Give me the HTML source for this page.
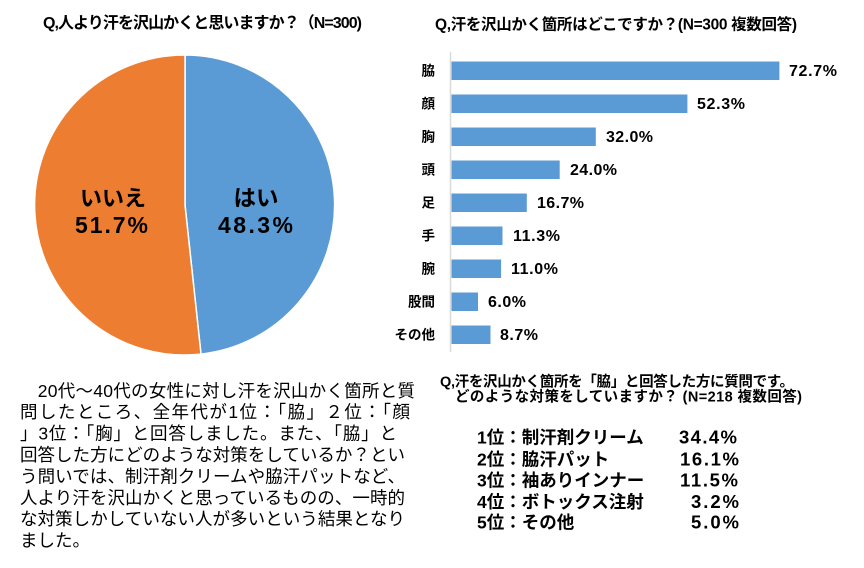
<!DOCTYPE html>
<html><head><meta charset="utf-8"><style>
html,body{margin:0;padding:0;background:#fff;}
svg{display:block;}
text{font-family:"Liberation Sans","Noto Sans CJK JP",sans-serif;fill:#000;}
.b{font-weight:bold;}
</style></head><body>
<svg width="864" height="568" viewBox="0 0 864 568" xmlns="http://www.w3.org/2000/svg">
<rect width="864" height="568" fill="#fff"/>
<!-- Left title -->
<text class="b" x="43" y="28" font-size="16" textLength="319" lengthAdjust="spacing">Q,人より汗を沢山かくと思いますか？（N=300)</text>
<!-- Pie -->
<path d="M185,205 L185,55 A150,150 0 0,1 201,354.1 Z" fill="#5B9BD5" stroke="#fff" stroke-width="1.5"/>
<path d="M185,205 L201,354.1 A150,150 0 1,1 185,55 Z" fill="#ED7D31" stroke="#fff" stroke-width="1.5"/>
<text class="b" x="256" y="206" font-size="22.5" text-anchor="middle">はい</text>
<text class="b" x="218" y="233" font-size="23" textLength="75" lengthAdjust="spacing">48.3%</text>
<text class="b" x="113" y="206" font-size="22" text-anchor="middle">いいえ</text>
<text class="b" x="75" y="233" font-size="23" textLength="73" lengthAdjust="spacing">51.7%</text>

<!-- Right title -->
<text class="b" x="435" y="29.5" font-size="15.5" textLength="362" lengthAdjust="spacing">Q,汗を沢山かく箇所はどこですか？(N=300 複数回答)</text>
<!-- Axis -->
<line x1="450.5" y1="52" x2="450.5" y2="352" stroke="#d9d9d9" stroke-width="1.5"/>
<g fill="#5B9BD5">
<rect x="451.5" y="61.5" width="327.9" height="18.5"/>
<rect x="451.5" y="94.5" width="235.9" height="18.5"/>
<rect x="451.5" y="127.5" width="144.3" height="18.5"/>
<rect x="451.5" y="160.5" width="108.2" height="18.5"/>
<rect x="451.5" y="193.5" width="75.3" height="18.5"/>
<rect x="451.5" y="226.5" width="51" height="18.5"/>
<rect x="451.5" y="259.5" width="49.6" height="18.5"/>
<rect x="451.5" y="292.5" width="26.5" height="18.5"/>
<rect x="451.5" y="325.5" width="39" height="18.5"/>
</g>
<g class="b" font-size="13.5" text-anchor="end" font-weight="bold">
<text x="435" y="75.5">脇</text>
<text x="435" y="108.5">顔</text>
<text x="435" y="141.5">胸</text>
<text x="435" y="174.5">頭</text>
<text x="435" y="207.5">足</text>
<text x="435" y="240.5">手</text>
<text x="435" y="273.5">腕</text>
<text x="435" y="306.5">股間</text>
<text x="435" y="339.5">その他</text>
</g>
<g font-size="16" font-weight="bold">
<text x="789" y="76" textLength="48" lengthAdjust="spacing">72.7%</text>
<text x="697" y="109" textLength="48" lengthAdjust="spacing">52.3%</text>
<text x="606" y="142" textLength="47" lengthAdjust="spacing">32.0%</text>
<text x="570" y="175" textLength="47" lengthAdjust="spacing">24.0%</text>
<text x="537" y="208" textLength="47" lengthAdjust="spacing">16.7%</text>
<text x="513" y="241" textLength="47" lengthAdjust="spacing">11.3%</text>
<text x="511" y="274" textLength="47" lengthAdjust="spacing">11.0%</text>
<text x="488" y="307" textLength="38" lengthAdjust="spacing">6.0%</text>
<text x="500" y="340" textLength="38" lengthAdjust="spacing">8.7%</text>
</g>

<!-- Paragraph -->
<g font-size="17.5">
<text x="20" y="396.8" textLength="395" lengthAdjust="spacing">　20代～40代の女性に対し汗を沢山かく箇所と質</text>
<text x="20" y="418.2" textLength="390" lengthAdjust="spacing">問したところ、全年代が1位：「脇」２位：「顔</text>
<text x="20" y="439.6" textLength="377" lengthAdjust="spacing">」3位：「胸」と回答しました。また、「脇」と</text>
<text x="20" y="461" textLength="385" lengthAdjust="spacing">回答した方にどのような対策をしているか？とい</text>
<text x="20" y="482.4" textLength="385" lengthAdjust="spacing">う問いでは、制汗剤クリームや脇汗パットなど、</text>
<text x="20" y="503.8" textLength="385" lengthAdjust="spacing">人より汗を沢山かくと思っているものの、一時的</text>
<text x="20" y="525.2" textLength="385" lengthAdjust="spacing">な対策しかしていない人が多いという結果となり</text>
<text x="20" y="546.6">ました。</text>
</g>

<!-- Bottom right -->
<text class="b" x="440" y="386.5" font-size="14.5" textLength="354" lengthAdjust="spacing">Q,汗を沢山かく箇所を「脇」と回答した方に質問です。</text>
<text class="b" x="455" y="401.5" font-size="14.5" textLength="347" lengthAdjust="spacing">どのような対策をしていますか？ (N=218 複数回答)</text>
<g font-size="17.5" font-weight="bold">
<text x="477" y="443.5">1位：制汗剤クリーム</text>
<text x="477" y="465.5">2位：脇汗パット</text>
<text x="477" y="486.5">3位：袖ありインナー</text>
<text x="477" y="508">4位：ボトックス注射</text>
<text x="477" y="528.5">5位：その他</text>
</g>
<g font-size="18.5" font-weight="bold">
<text x="679" y="443.5" textLength="58" lengthAdjust="spacing">34.4%</text>
<text x="680" y="465.5" textLength="59" lengthAdjust="spacing">16.1%</text>
<text x="680" y="486.5" textLength="58" lengthAdjust="spacing">11.5%</text>
<text x="691" y="508" textLength="48" lengthAdjust="spacing">3.2%</text>
<text x="691" y="528.5" textLength="48" lengthAdjust="spacing">5.0%</text>
</g>
</svg>
</body></html>
